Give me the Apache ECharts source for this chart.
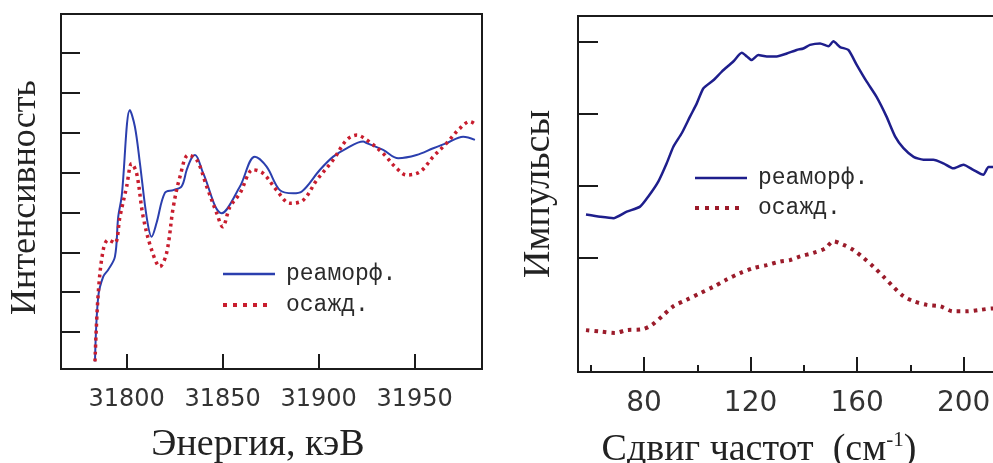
<!DOCTYPE html>
<html>
<head>
<meta charset="utf-8">
<script src="https://cdn.jsdelivr.net/npm/echarts@6/dist/echarts.min.js"></script>
<style>
  html, body { margin: 0; padding: 0; background: #ffffff; }
  #chart { width: 993px; height: 463px; }
</style>
</head>
<body>
<div id="chart"></div>
<script>
// XANES spectra (left panel): energy, keV, and intensity (arb. units)
const xanesAmorphEnergy = [31783.5, 31785.2, 31787.8, 31790.4, 31793.9, 31795.6, 31797.4, 31801.7, 31804.3, 31806.9,
  31810.4, 31813.0, 31815.6, 31819.9, 31824.3, 31828.6, 31831.3, 31833.9, 31835.6, 31839.9,
  31849.5, 31859.0, 31866.8, 31872.9, 31879.8, 31886.8, 31891.1, 31900.7, 31907.6, 31914.6,
  31923.2, 31925.0, 31933.6, 31941.5, 31951.0, 31959.7, 31966.7, 31975.3, 31981.4];
const xanesAmorphIntensity = [0.26, 1.89, 2.39, 2.56, 2.89, 3.89, 4.40, 6.57, 6.15, 5.24,
  3.89, 3.39, 3.74, 4.49, 4.56, 4.65, 5.07, 5.37, 5.44, 4.98,
  3.98, 4.65, 5.40, 5.15, 4.56, 4.48, 4.52, 5.07, 5.40, 5.61,
  5.78, 5.74, 5.57, 5.36, 5.44, 5.61, 5.74, 5.90, 5.82];

const xanesPrecipEnergy = [31783.5, 31785.2, 31787.8, 31790.4, 31793.9, 31796.5, 31800.0, 31802.6, 31805.2, 31808.6,
  31813.0, 31817.3, 31820.8, 31824.3, 31827.8, 31832.1, 31836.5, 31841.7, 31846.9, 31850.0,
  31853.8, 31859.0, 31865.9, 31871.1, 31878.1, 31885.1, 31892.0, 31899.0, 31907.6, 31914.6,
  31919.8, 31925.0, 31933.6, 31940.6, 31945.8, 31952.8, 31959.7, 31966.7, 31973.6, 31978.8, 31982.3];
const xanesPrecipIntensity = [0.26, 1.97, 3.06, 3.31, 3.23, 3.89, 4.65, 5.23, 4.98, 3.89,
  3.06, 2.64, 2.98, 4.14, 4.90, 5.44, 5.32, 4.65, 3.98, 3.64,
  4.14, 4.48, 5.07, 4.98, 4.56, 4.23, 4.31, 4.81, 5.32, 5.82,
  5.94, 5.82, 5.48, 5.11, 4.94, 5.02, 5.40, 5.74, 6.11, 6.28, 6.19];

// Nuclear inelastic scattering (right panel): frequency shift, cm^-1, and counts (arb. units)
const ramanAmorphShift = [58.2, 63.5, 68.5, 73.5, 78.5, 81.6, 85.4, 88.5, 91.0, 94.2,
  97.3, 99.8, 102.3, 106.0, 109.2, 113.5, 116.7, 118.6, 120.4, 122.9,
  126.1, 129.8, 133.6, 137.3, 139.8, 142.3, 146.1, 149.2, 151.1, 153.6,
  156.7, 159.9, 163.6, 167.3, 171.0, 174.3, 177.4, 181.2, 184.9, 188.6,
  192.4, 196.1, 199.9, 203.6, 207.4, 209.3, 211.1, 214.0];
const ramanAmorphCounts = [1.60, 1.57, 1.55, 1.64, 1.71, 1.85, 2.06, 2.31, 2.54, 2.73,
  2.96, 3.14, 3.35, 3.46, 3.58, 3.72, 3.84, 3.79, 3.74, 3.81,
  3.79, 3.79, 3.83, 3.88, 3.90, 3.95, 3.97, 3.93, 4.00, 3.92,
  3.88, 3.67, 3.44, 3.23, 2.96, 2.68, 2.52, 2.40, 2.36, 2.36,
  2.31, 2.24, 2.29, 2.22, 2.15, 2.26, 2.26, 2.27];

const ramanPrecipShift = [58.2, 63.5, 69.1, 73.5, 79.1, 82.9, 87.3, 91.0, 96.0, 101.0,
  106.0, 111.0, 116.1, 121.1, 126.1, 131.1, 134.8, 138.6, 143.6, 148.0,
  151.1, 154.9, 158.6, 162.4, 166.1, 169.9, 173.6, 177.4, 181.2, 186.2,
  191.2, 196.1, 201.1, 206.1, 211.1, 214.0];
const ramanPrecipCounts = [0.00, -0.02, -0.04, 0.00, 0.01, 0.07, 0.21, 0.33, 0.42, 0.51,
  0.60, 0.70, 0.79, 0.86, 0.90, 0.95, 0.97, 1.02, 1.07, 1.13,
  1.23, 1.18, 1.11, 1.00, 0.88, 0.74, 0.60, 0.47, 0.40, 0.35,
  0.33, 0.26, 0.26, 0.28, 0.30, 0.30];

// Tick positions
const xanesEnergyTicks = [31800, 31850, 31900, 31950];
const xanesIntensityTicks = [1, 2, 3, 4, 5, 6, 7, 8];
const ramanShiftTicks = [80, 120, 160, 200];
const ramanShiftMinorTicks = [60, 100, 140, 180];
const ramanCountTicks = [1, 2, 3, 4];

const seriesNames = ['реаморф.', 'осажд.'];

const zip = (xs, ys) => xs.map((x, i) => [x, ys[i]]);

const FRAME = '#1b1b1b';
const TICK_FONT = 'DejaVu Sans';
const TITLE_FONT = 'Liberation Serif';
const LEGEND_FONT = 'Liberation Mono';
const TITLE_SIZE = 38;

const LEFT_BLUE = '#2b3fae';
const LEFT_RED = '#c81d2e';
const RIGHT_BLUE = '#1e1e8c';
const RIGHT_RED = '#9b1b2a';

const RAMAN_MIN = 55.2;
const RAMAN_MAX = 217.4;

function xAxisBase(gridIndex, min, max) {
  return {
    type: 'value', gridIndex, min, max, position: 'bottom',
    axisLine: { show: true, onZero: false, lineStyle: { color: FRAME, width: 2 } },
    splitLine: { show: false }
  };
}

// tick-only companion axis sharing a grid with a labelled axis
function tickOnlyXAxis(gridIndex, min, max, ticks, len) {
  return Object.assign(xAxisBase(gridIndex, min, max), {
    axisLine: { show: false, onZero: false },
    axisTick: { show: true, inside: true, length: len, customValues: ticks, lineStyle: { color: FRAME, width: 2 } },
    axisLabel: { show: false }
  });
}

function valueYAxis(gridIndex, min, max, ticks, name, tickLen, gap, size, padding) {
  return {
    type: 'value', gridIndex, min, max, position: 'left',
    axisLine: { show: true, onZero: false, lineStyle: { color: FRAME, width: 2 } },
    axisTick: { show: true, inside: true, length: tickLen, customValues: ticks, lineStyle: { color: FRAME, width: 2 } },
    axisLabel: { show: false },
    splitLine: { show: false },
    name, nameLocation: 'middle', nameRotate: 90, nameGap: gap,
    nameTextStyle: { fontFamily: TITLE_FONT, fontSize: size, color: '#222', padding: padding || 0 }
  };
}

function legendRow(x, y, text, stroke, dotted) {
  return [
    {
      type: 'line', silent: true,
      shape: { x1: x, y1: y, x2: x + (dotted ? 47 : 52), y2: y },
      style: dotted
        ? { stroke, lineWidth: 4, lineDash: [4, 6], lineCap: 'butt' }
        : { stroke, lineWidth: 2.5 }
    },
    {
      type: 'text', silent: true, x: x + 63, y: y,
      style: { text, fontFamily: LEGEND_FONT, fontSize: 23, fill: '#2a2a2a', verticalAlign: 'middle', align: 'left' }
    }
  ];
}

const chart = echarts.init(document.getElementById('chart'), null, { renderer: 'canvas' });

chart.setOption({
  backgroundColor: '#ffffff',
  animation: false,
  grid: [
    { left: 61, top: 14, width: 421, height: 355, show: true, borderColor: FRAME, borderWidth: 2,
      containLabel: false, outerBoundsMode: 'none' },
    { left: 578, top: 16, width: 432, height: 356, show: true, borderColor: FRAME, borderWidth: 2,
      containLabel: false, outerBoundsMode: 'none' }
  ],
  xAxis: [
    Object.assign(xAxisBase(0, 31765.8, 31985.1), {
      axisTick: { show: true, inside: true, length: 15, customValues: xanesEnergyTicks, lineStyle: { color: FRAME, width: 2 } },
      axisLabel: { show: true, customValues: xanesEnergyTicks, margin: 19, fontSize: 24, fontFamily: TICK_FONT, color: '#333',
        formatter: v => String(v) },
      name: 'Энергия, кэВ', nameLocation: 'middle', nameGap: 57,
      nameTextStyle: { fontFamily: TITLE_FONT, fontSize: TITLE_SIZE, color: '#222', padding: [0, 27, 0, 0] }
    }),
    Object.assign(xAxisBase(1, RAMAN_MIN, RAMAN_MAX), {
      axisTick: { show: false },
      axisLabel: { show: true, customValues: ramanShiftTicks, margin: 18, fontSize: 28, fontFamily: TICK_FONT, color: '#333',
        formatter: v => String(v) },
      name: '{t|Сдвиг частот  (см}{s|-1}{t|)}', nameLocation: 'middle', nameGap: 58,
      nameTextStyle: { color: '#222', padding: [0, 70, 0, 0],
        rich: {
          t: { fontFamily: TITLE_FONT, fontSize: TITLE_SIZE, color: '#222', lineHeight: 40 },
          s: { fontFamily: TITLE_FONT, fontSize: 21, color: '#222', lineHeight: 40, verticalAlign: 'top' }
        } }
    }),
    // major and minor ticks of the frequency axis
    tickOnlyXAxis(1, RAMAN_MIN, RAMAN_MAX, ramanShiftTicks, 15),
    tickOnlyXAxis(1, RAMAN_MIN, RAMAN_MAX, ramanShiftMinorTicks, 7)
  ],
  yAxis: [
    valueYAxis(0, 0.07, 8.98, xanesIntensityTicks, 'Интенсивность', 19, 17, 36, [0, 12, 0, 0]),
    valueYAxis(1, -0.58, 4.35, ramanCountTicks, 'Импульсы', 20, 20, TITLE_SIZE)
  ],
  series: [
    {
      name: seriesNames[0], type: 'line', xAxisIndex: 0, yAxisIndex: 0,
      data: zip(xanesAmorphEnergy, xanesAmorphIntensity),
      symbol: 'none', smooth: 0.35, lineStyle: { color: LEFT_BLUE, width: 2 }
    },
    {
      name: seriesNames[1], type: 'line', xAxisIndex: 0, yAxisIndex: 0,
      data: zip(xanesPrecipEnergy, xanesPrecipIntensity),
      symbol: 'none', smooth: 0.35, lineStyle: { color: LEFT_RED, width: 3.5, type: [3, 4], cap: 'butt' }
    },
    {
      name: seriesNames[0], type: 'line', xAxisIndex: 1, yAxisIndex: 1,
      data: zip(ramanAmorphShift, ramanAmorphCounts),
      symbol: 'none', smooth: 0.2, lineStyle: { color: RIGHT_BLUE, width: 2.5 }
    },
    {
      name: seriesNames[1], type: 'line', xAxisIndex: 1, yAxisIndex: 1,
      data: zip(ramanPrecipShift, ramanPrecipCounts),
      symbol: 'none', smooth: 0.3, lineStyle: { color: RIGHT_RED, width: 4, type: [3.5, 5], cap: 'butt' }
    }
  ],
  graphic: [].concat(
    legendRow(223, 274, seriesNames[0], LEFT_BLUE, false),
    legendRow(223, 305, seriesNames[1], LEFT_RED, true),
    legendRow(695, 178, seriesNames[0], RIGHT_BLUE, false),
    legendRow(695, 208, seriesNames[1], RIGHT_RED, true)
  )
});
</script>
</body>
</html>
